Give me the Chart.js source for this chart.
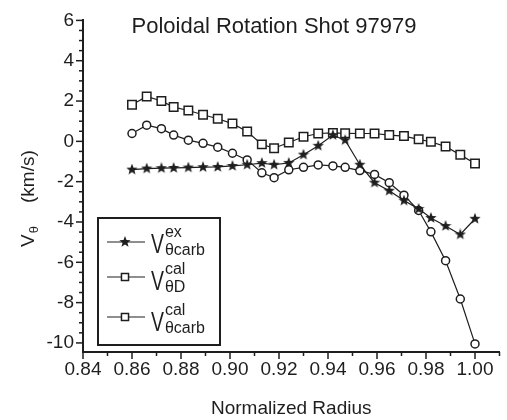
<!DOCTYPE html>
<html><head><meta charset="utf-8">
<script src="https://cdn.jsdelivr.net/npm/chart.js@4/dist/chart.umd.min.js"></script>
<style>html,body{margin:0;padding:0;background:#fff;}#wrap{width:507px;height:420px;}</style>
</head><body><div id="wrap"><canvas id="c" width="507" height="420"></canvas></div>
<script>
// ---- data ----
const radius = [0.860,0.866,0.872,0.877,0.883,0.889,0.895,0.901,0.907,0.913,0.918,0.924,0.930,0.936,0.942,0.947,0.953,0.959,0.965,0.971,0.977,0.982,0.988,0.994,1.000];
const vExCarb = [-1.40,-1.35,-1.33,-1.32,-1.30,-1.28,-1.27,-1.22,-1.16,-1.08,-1.16,-1.07,-0.66,-0.22,0.31,0.06,-1.16,-2.05,-2.45,-2.94,-3.35,-3.80,-4.20,-4.62,-3.84];
const vCalD = [1.82,2.23,2.00,1.70,1.53,1.32,1.12,0.88,0.49,-0.15,-0.34,-0.06,0.23,0.39,0.42,0.40,0.39,0.39,0.31,0.26,0.10,-0.02,-0.26,-0.67,-1.10];
const vCalCarb = [0.39,0.80,0.63,0.31,0.06,-0.10,-0.29,-0.59,-0.92,-1.56,-1.80,-1.41,-1.29,-1.17,-1.22,-1.29,-1.45,-1.64,-2.05,-2.67,-3.43,-4.49,-5.92,-7.82,-10.05];
const xTickValues = [0.84,0.86,0.88,0.90,0.92,0.94,0.96,0.98,1.00];
const yTickValues = [-10,-8,-6,-4,-2,0,2,4,6];
const titleText = 'Poloidal Rotation Shot 97979';
const xTitleText = 'Normalized Radius';

const FONT = "'Liberation Sans', Arial, sans-serif";
const INK = '#1e1e1e';

function makeStar(size){
  const c = document.createElement('canvas');
  c.width = size; c.height = size;
  const g = c.getContext('2d');
  const cx = size/2, cy = size/2, R = size/2, r = size*0.21;
  g.beginPath();
  for(let i=0;i<10;i++){
    const ang = -Math.PI/2 + i*Math.PI/5;
    const rr = i%2===0 ? R : r;
    const px = cx + rr*Math.cos(ang), py = cy + rr*Math.sin(ang);
    if(i===0) g.moveTo(px,py); else g.lineTo(px,py);
  }
  g.closePath();
  g.fillStyle = INK; g.fill();
  return c;
}
const starImg = makeStar(12);

const pts = arr => radius.map((r,i)=>({x:r,y:arr[i]}));

function txt(ctx, s, x, y, size, sx){
  ctx.save();
  ctx.translate(x,y);
  ctx.scale(sx||1,1);
  ctx.font = size+'px '+FONT;
  ctx.fillText(s,0,0);
  const w = ctx.measureText(s).width*(sx||1);
  ctx.restore();
  return w;
}

const decor = {
  id:'decor',
  beforeDraw(chart){
    const ctx = chart.ctx;
    ctx.save(); ctx.fillStyle='#fff'; ctx.fillRect(0,0,chart.width,chart.height); ctx.restore();
  },
  afterDraw(chart){
    const ctx = chart.ctx, xs = chart.scales.x, ys = chart.scales.y, a = chart.chartArea;
    ctx.save();
    ctx.strokeStyle = INK; ctx.fillStyle = INK; ctx.lineWidth = 1.5;
    // x tick marks (major every 0.02, minor every 0.01)
    for(let k=0;k<=17;k++){
      const v = 0.84 + k*0.01;
      const px = xs.getPixelForValue(v);
      const len = k%2===0 ? 7 : 4;
      ctx.beginPath(); ctx.moveTo(px,a.bottom); ctx.lineTo(px,a.bottom+len); ctx.stroke();
    }
    // y tick marks (major every 2, minor every 0.5)
    for(let k=0;k<=32;k++){
      const v = -10 + k*0.5;
      const py = ys.getPixelForValue(v);
      const len = k%4===0 ? 7 : 4;
      ctx.beginPath(); ctx.moveTo(a.left,py); ctx.lineTo(a.left-len,py); ctx.stroke();
    }
    // title
    ctx.textAlign = 'center'; ctx.textBaseline = 'alphabetic';
    ctx.font = '22px '+FONT;
    ctx.fillText(titleText, 274, 33);
    // y-axis title: V_θ (km/s)
    ctx.save();
    ctx.translate(34, 247);
    ctx.rotate(-Math.PI/2);
    ctx.textAlign = 'left';
    let u = txt(ctx,'V',0,0,19,1);
    u += txt(ctx,'θ',u+1,4,13,1);
    txt(ctx,'(km/s)',44,0,19,1);
    ctx.restore();
    // legend
    ctx.textAlign = 'left';
    ctx.lineWidth = 2;
    ctx.strokeRect(98,218,122,127);
    const rows = [
      {y:242, base:253, sup:'ex', sub:'θcarb', kind:'star'},
      {y:277, base:290, sup:'cal', sub:'θD', kind:'rect'},
      {y:317, base:331, sup:'cal', sub:'θcarb', kind:'rect'}
    ];
    rows.forEach(r=>{
      ctx.lineWidth = 1.2;
      ctx.strokeStyle = INK;
      ctx.beginPath(); ctx.moveTo(107,r.y); ctx.lineTo(145,r.y); ctx.stroke();
      if(r.kind==='star'){
        ctx.drawImage(starImg,125-6,r.y-6);
      } else {
        ctx.fillStyle = '#fff';
        ctx.lineWidth = 1.5;
        Chart.helpers.drawPoint(ctx,{pointStyle:'rect',rotation:0,radius:5,borderWidth:1.5},125,r.y);
      }
      ctx.fillStyle = INK;
      const vw = txt(ctx,'V',151,r.base,27,0.72);
      txt(ctx,r.sup,151+vw+1,r.base-16,16,1);
      txt(ctx,r.sub,151+vw+1,r.base+2,16,1);
    });
    ctx.restore();
  }
};

const common = {borderColor:INK, borderWidth:1.2, pointBorderColor:INK, pointBackgroundColor:'#fff', pointBorderWidth:1.5, tension:0, fill:false};

new Chart(document.getElementById('c'), {
  type:'line',
  data:{
    datasets:[
      Object.assign({}, common, {label:'V ex θcarb', data:pts(vExCarb), pointStyle:starImg, pointRadius:6}),
      Object.assign({}, common, {label:'V cal θD', data:pts(vCalD), pointStyle:'rect', pointRadius:6}),
      Object.assign({}, common, {label:'V cal θcarb', data:pts(vCalCarb), pointStyle:'circle', pointRadius:4})
    ]
  },
  options:{
    responsive:false, animation:false, devicePixelRatio:1,
    layout:{padding:{left:0,top:15,right:6,bottom:0}},
    plugins:{legend:{display:false}, title:{display:false}, tooltip:{enabled:false}},
    scales:{
      x:{
        type:'linear', min:0.84, max:1.01,
        grid:{display:true, drawOnChartArea:false, drawTicks:false},
        border:{display:true, color:INK, width:2},
        afterBuildTicks:(s)=>{ s.ticks = xTickValues.map(v=>({value:v})); },
        afterFit:(s)=>{ s.height = 68; },
        ticks:{color:INK, font:{family:FONT,size:19}, padding:6, autoSkip:false, maxRotation:0, callback:(v)=>Number(v).toFixed(2)},
        title:{display:true, text:xTitleText, color:INK, font:{family:FONT,size:19}, padding:{top:0,bottom:0}}
      },
      y:{
        type:'linear', min:-10.45, max:6,
        grid:{display:true, drawOnChartArea:false, drawTicks:false},
        border:{display:true, color:INK, width:2},
        afterBuildTicks:(s)=>{ s.ticks = yTickValues.map(v=>({value:v})); },
        afterFit:(s)=>{ s.width = 83; },
        ticks:{color:INK, font:{family:FONT,size:19}, padding:9, autoSkip:false, callback:(v)=>String(v)}
      }
    }
  },
  plugins:[decor]
});
</script>
</body></html>
